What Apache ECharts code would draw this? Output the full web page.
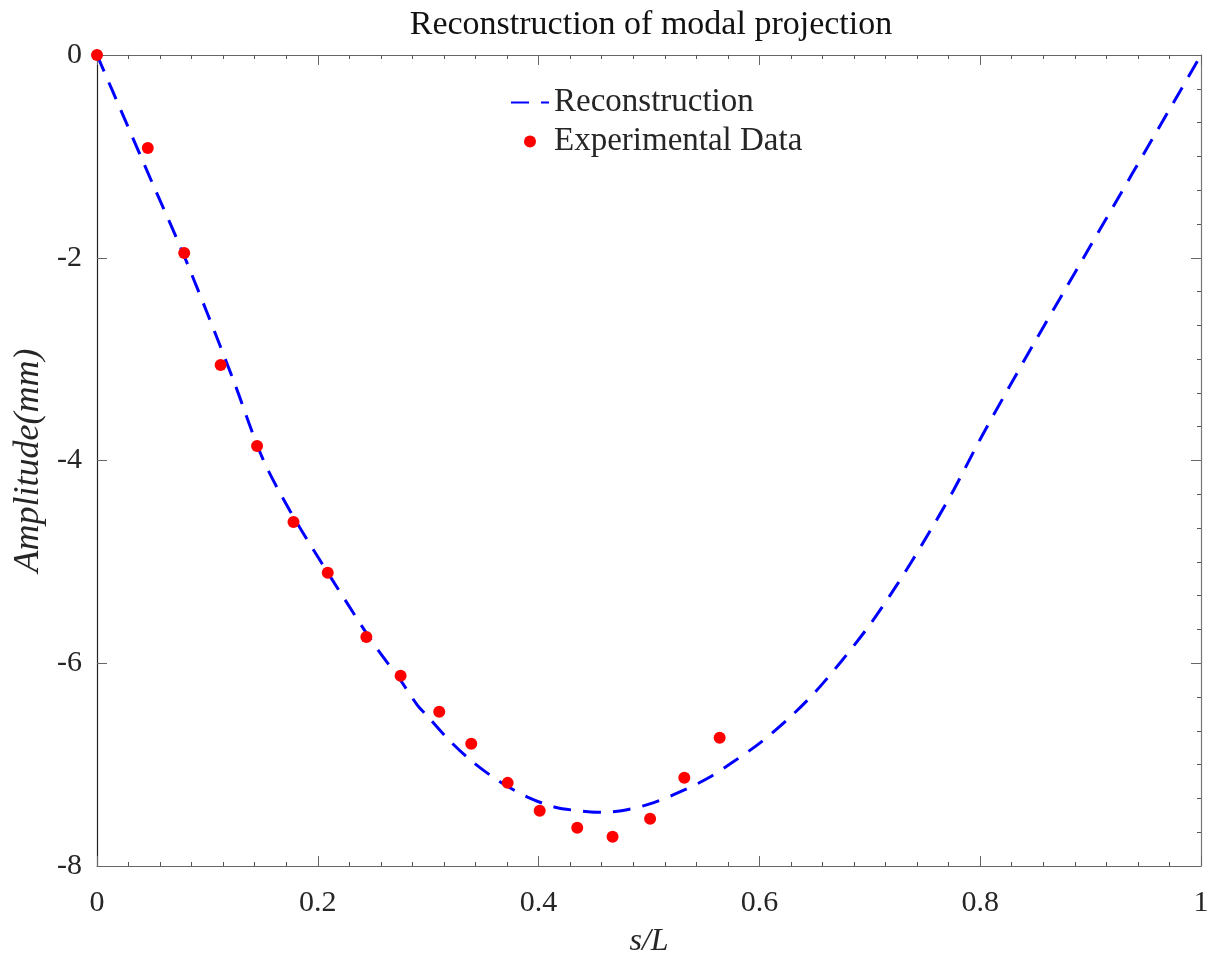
<!DOCTYPE html>
<html>
<head>
<meta charset="utf-8">
<script src="https://cdn.jsdelivr.net/npm/echarts@6/dist/echarts.min.js"></script>
<style>
html,body{margin:0;padding:0;background:#fff;}
#chart{width:1211px;height:959px;}
</style>
</head>
<body>
<div id="chart"></div>
<script>
// Reconstruction curve (s/L, amplitude mm)
const reconX = [0, 0.025, 0.05, 0.075, 0.1, 0.125, 0.15, 0.175, 0.2, 0.225, 0.25, 0.275, 0.29, 0.3, 0.32, 0.34, 0.365, 0.39, 0.415, 0.445, 0.457, 0.475, 0.5, 0.528, 0.554, 0.578, 0.6, 0.625, 0.65, 0.675, 0.7, 0.725, 0.75, 0.775, 0.8, 0.825, 0.85, 0.875, 0.9, 0.925, 0.95, 0.975, 1];
const reconY = [0, -0.63, -1.26, -1.88, -2.55, -3.25, -3.98, -4.5, -4.95, -5.38, -5.8, -6.17, -6.41, -6.53, -6.77, -6.97, -7.17, -7.32, -7.42, -7.465, -7.47, -7.455, -7.39, -7.27, -7.13, -6.96, -6.79, -6.56, -6.29, -5.97, -5.62, -5.22, -4.78, -4.31, -3.79, -3.30, -2.82, -2.35, -1.88, -1.41, -0.94, -0.47, 0];
// Experimental data
const expX = [0, 0.046, 0.079, 0.112, 0.145, 0.178, 0.209, 0.244, 0.275, 0.310, 0.339, 0.372, 0.401, 0.435, 0.467, 0.501, 0.532, 0.564];
const expY = [0, -0.917, -1.953, -3.057, -3.856, -4.606, -5.108, -5.740, -6.124, -6.479, -6.795, -7.180, -7.456, -7.623, -7.712, -7.535, -7.130, -6.736];
const xTicks = [0, 0.2, 0.4, 0.6, 0.8, 1];
const yTicks = [-8, -6, -4, -2, 0];

const FONT = '"Liberation Serif", "Times New Roman", serif';
const TXT = '#262626';

const chart = echarts.init(document.getElementById('chart'), null, {renderer: 'canvas'});
const lineData = reconX.map((x, i) => [x, reconY[i]]);
const expData = expX.map((x, i) => [x, expY[i]]);

function xAx(pos, showLabel) {
  return {
    type: 'value', position: pos, min: xTicks[0], max: xTicks[xTicks.length - 1], interval: 0.2,
    axisLine: {show: true, onZero: false, lineStyle: {color: '#666', width: 1.2}},
    axisTick: {show: true, inside: true, length: 10, lineStyle: {color: '#666'}},
    minorTick: {show: true, splitNumber: 7, length: 4, lineStyle: {color: '#555'}},
    splitLine: {show: false},
    axisLabel: {show: showLabel, fontFamily: FONT, fontSize: 30, color: TXT, margin: 22,
      formatter: v => String(+v.toFixed(1))},
    name: showLabel ? 's/L' : '', nameLocation: 'middle', nameGap: 60,
    nameTextStyle: {fontFamily: FONT, fontStyle: 'italic', fontSize: 32, color: TXT}
  };
}
function yAx(pos, showLabel) {
  return {
    type: 'value', position: pos, min: yTicks[0], max: yTicks[yTicks.length - 1], interval: 2,
    axisLine: {show: true, onZero: false, lineStyle: {color: showLabel ? '#222' : '#777', width: 1.2}},
    axisTick: {show: true, inside: true, length: 10, lineStyle: {color: '#666'}},
    minorTick: {show: !showLabel, splitNumber: 6, length: 4, lineStyle: {color: '#555'}},
    splitLine: {show: false},
    axisLabel: {show: showLabel, fontFamily: FONT, fontSize: 30, color: TXT, margin: 15},
    name: showLabel ? 'Amplitude(mm)' : '', nameLocation: 'middle', nameGap: 50, nameRotate: 90,
    nameTextStyle: {fontFamily: FONT, fontStyle: 'italic', fontSize: 36, color: TXT}
  };
}

chart.setOption({
  backgroundColor: '#fff',
  animation: false,
  title: {
    text: 'Reconstruction of modal projection', left: 646, textAlign: 'center', top: 3,
    textStyle: {fontFamily: FONT, fontWeight: 'normal', fontSize: 34, color: '#111'}
  },
  grid: {left: 97, right: 10, top: 55, bottom: 93, containLabel: false, outerBoundsMode: 'none'},
  legend: {
    orient: 'vertical', left: 510, top: 86, itemGap: 6, padding: 0,
    itemWidth: 38, itemHeight: 12,
    textStyle: {fontFamily: FONT, fontSize: 33, color: TXT, lineHeight: 32},
    data: [
      {name: 'Reconstruction', itemStyle: {opacity: 0}},
      {name: 'Experimental Data'}
    ],
    selectedMode: false
  },
  xAxis: [xAx('bottom', true), xAx('top', false)],
  yAxis: [yAx('left', true), yAx('right', false)],
  series: [
    {
      name: 'Reconstruction', type: 'line', xAxisIndex: 0, yAxisIndex: 0,
      data: lineData, smooth: 0.3, symbol: 'none', z: 2,
      lineStyle: {color: '#0000ff', width: 3, type: [18, 12]},
      itemStyle: {color: '#0000ff'}
    },
    {
      name: 'Experimental Data', type: 'scatter', xAxisIndex: 0, yAxisIndex: 0,
      data: expData, symbol: 'circle', symbolSize: 12, z: 3,
      itemStyle: {color: '#ff0000', opacity: 1}
    }
  ]
});
</script>
</body>
</html>
